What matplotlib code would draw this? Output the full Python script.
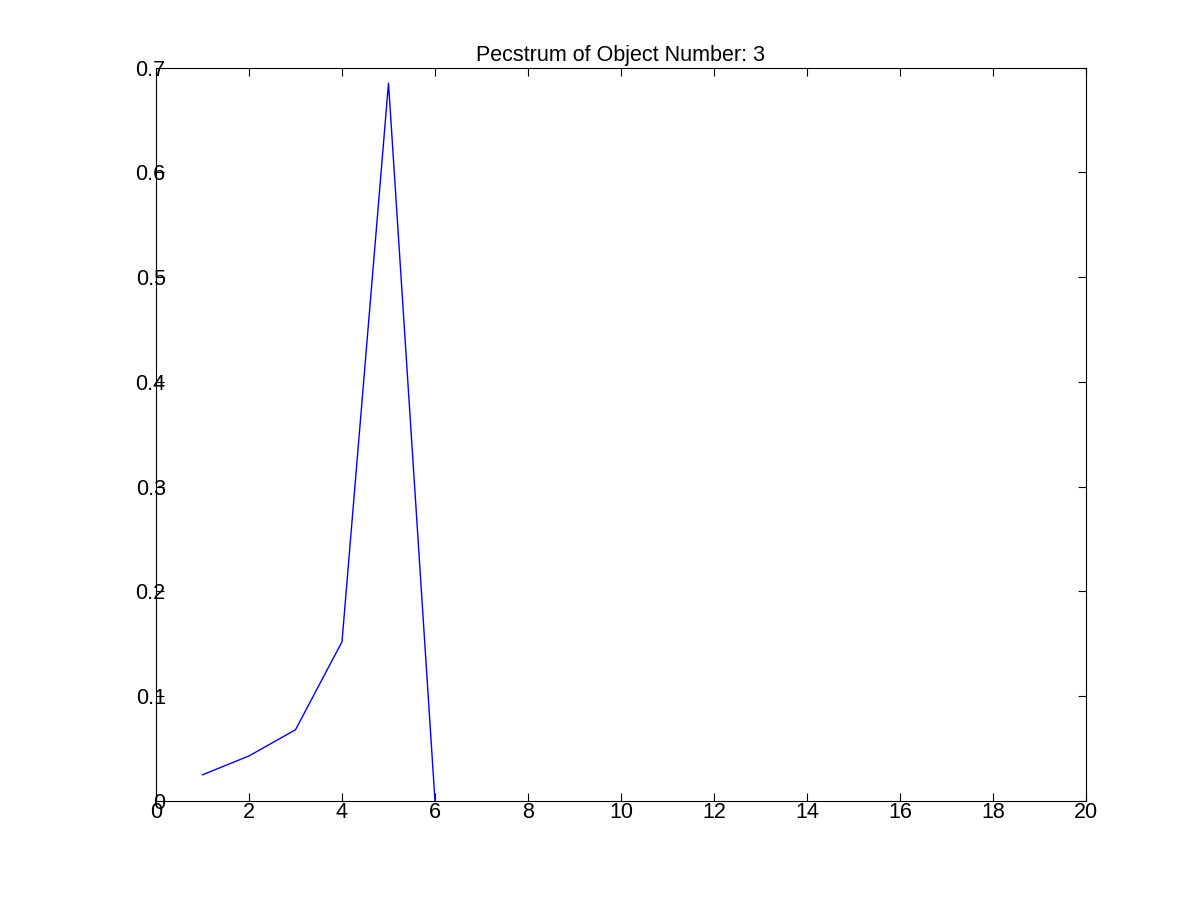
import matplotlib
matplotlib.use("Agg")
import matplotlib.pyplot as plt

# pecstrum values
x_vals = [1, 2, 3, 4, 5, 6]
pec_vals = [0.025, 0.043, 0.068, 0.152, 0.685, 0.0]

plt.rcParams['font.family'] = ['Liberation Sans', 'DejaVu Sans']

fig = plt.figure(figsize=(12, 9), dpi=100)
ax = fig.add_axes([0.13, 0.11, 0.775, 0.815])

ax.plot(x_vals, pec_vals, color='#0000ff', linewidth=1.0)

ax.set_xlim(0, 20)
ax.set_ylim(0, 0.7)
ax.set_xticks(range(0, 21, 2))
ax.set_yticks([0, 0.1, 0.2, 0.3, 0.4, 0.5, 0.6, 0.7])
ax.set_yticklabels(['0', '0.1', '0.2', '0.3', '0.4', '0.5', '0.6', '0.7'])

ax.tick_params(direction='in', length=6, width=0.8, top=True, right=True,
               labelsize=15.5, colors='black')
ax.tick_params(axis='y', pad=-7)
ax.tick_params(axis='x', pad=1)
for s in ax.spines.values():
    s.set_linewidth(0.8)

ax.set_title('Pecstrum of Object Number: 3', fontsize=15.5, pad=5)

plt.savefig('out.png', dpi=100)
